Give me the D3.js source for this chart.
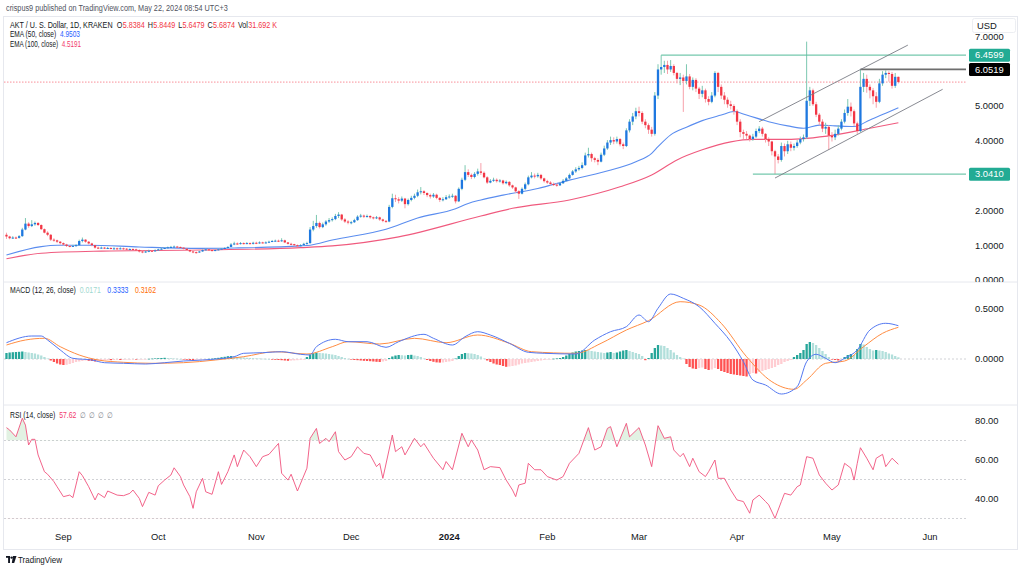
<!DOCTYPE html>
<html><head><meta charset="utf-8">
<script src="https://cdn.jsdelivr.net/npm/d3@7"></script>
<style>
html,body{margin:0;padding:0;background:#fff;}
svg{display:block;font-family:"Liberation Sans",Arial,sans-serif;}
</style></head><body>
<svg id="c" width="1024" height="570"></svg>
<script>
// ---------------- DATA ----------------
const firstDay = [2023, 7, 14]; // Aug 14 2023 (UTC), one candle per day
const firstOpen = 1.30;
const closes = [
 1.25,1.20,1.22,1.21,1.26,1.45,1.62,1.55,1.60,1.64,1.58,1.46,1.36,1.30,1.16,1.14,1.10,1.06,
 1.02,0.98,0.97,0.98,1.00,1.12,1.16,1.10,1.05,1.00,0.93,0.92,0.93,0.91,0.92,0.90,0.91,0.90,0.91,0.90,0.88,0.89,0.88,0.86,0.82,0.80,0.82,0.84,0.83,0.85,
 0.88,0.90,0.92,0.94,0.95,0.96,0.95,0.93,0.90,0.86,0.82,0.80,0.79,0.82,0.86,0.88,0.86,0.84,0.86,0.88,0.90,0.92,0.95,1.02,1.05,1.04,1.06,1.05,1.06,1.04,1.07,
 1.06,1.08,1.07,1.08,1.10,1.12,1.13,1.12,1.14,1.08,1.04,1.03,1.00,0.98,1.00,1.04,1.06,1.45,1.55,1.64,1.52,1.60,1.68,1.72,1.75,1.84,1.88,1.74,1.68,1.65,
 1.66,1.72,1.82,1.85,1.82,1.84,1.80,1.78,1.80,1.74,1.70,1.68,2.10,2.35,2.32,2.28,2.34,2.18,2.30,2.36,2.42,2.52,2.55,2.50,2.44,2.40,2.45,2.36,2.30,2.32,2.38,
 2.40,2.42,2.26,2.62,2.88,3.10,3.02,2.96,3.05,3.12,3.08,2.95,2.80,2.85,2.88,2.84,2.86,2.78,2.82,2.72,2.66,2.55,2.48,2.62,2.75,2.95,3.00,2.98,3.02,2.92,2.84,
 2.80,2.76,2.74,2.72,2.78,2.85,2.92,3.02,3.12,3.18,3.22,3.30,3.58,3.62,3.50,3.45,3.40,3.60,3.78,3.95,4.02,3.98,4.05,3.90,3.85,4.30,4.55,4.70,4.85,
 4.80,4.55,4.45,4.32,4.20,5.30,6.05,6.12,6.18,6.05,6.15,5.95,5.78,5.82,5.72,5.85,5.55,5.75,5.50,5.35,5.45,5.20,5.12,5.30,5.95,5.55,5.30,5.18,5.05,5.00,4.85,
 4.55,4.25,4.20,4.15,4.05,4.12,4.28,4.35,4.20,4.05,3.98,3.70,3.55,3.45,3.85,3.70,3.90,3.80,3.85,3.95,4.05,4.10,5.15,5.45,5.05,4.75,4.55,4.35,4.40,4.15,
 4.10,4.20,4.35,4.55,4.80,4.98,4.85,4.50,4.28,5.55,5.78,5.55,5.45,5.28,5.12,5.65,5.90,5.95,5.92,5.58,5.8384,5.6874
];
const highs = [
 1.36,1.27,1.26,1.25,1.29,1.50,1.78,1.66,1.72,1.68,1.66,1.60,1.48,1.40,1.32,1.20,1.16,1.12,
 1.08,1.04,1.00,1.01,1.03,1.16,1.22,1.17,1.12,1.07,1.01,0.96,0.96,0.95,0.95,0.94,0.94,0.93,0.94,0.93,0.92,0.91,0.91,0.90,0.88,0.84,0.85,0.87,0.86,0.88,
 0.90,0.93,0.94,0.96,0.98,0.99,0.98,0.96,0.94,0.91,0.87,0.83,0.82,0.84,0.88,0.90,0.90,0.87,0.88,0.90,0.92,0.94,0.97,1.06,1.10,1.08,1.09,1.08,1.09,1.08,1.10,
 1.10,1.11,1.10,1.11,1.13,1.15,1.16,1.16,1.20,1.16,1.09,1.07,1.04,1.02,1.03,1.07,1.10,1.52,1.70,1.87,1.68,1.65,1.72,1.78,1.80,1.90,1.95,1.90,1.78,1.72,
 1.70,1.76,1.86,1.90,1.88,1.88,1.86,1.82,1.84,1.82,1.76,1.72,2.16,2.48,2.45,2.38,2.40,2.36,2.34,2.42,2.48,2.60,2.67,2.58,2.52,2.48,2.50,2.48,2.38,2.38,2.44,
 2.46,2.48,2.44,2.66,2.94,3.30,3.18,3.06,3.10,3.20,3.36,3.12,2.98,2.90,2.94,2.92,2.90,2.88,2.86,2.84,2.74,2.68,2.58,2.66,2.80,3.00,3.10,3.06,3.08,3.05,2.94,
 2.88,2.84,2.80,2.78,2.82,2.90,2.96,3.06,3.16,3.24,3.28,3.38,3.66,3.80,3.66,3.54,3.50,3.66,3.86,4.02,4.12,4.10,4.12,4.08,3.95,4.36,4.62,4.80,4.95,
 4.98,4.85,4.62,4.50,4.40,5.40,6.20,6.4599,6.30,6.30,6.32,6.20,5.98,5.95,5.90,6.20,5.92,5.82,5.80,5.55,5.58,5.50,5.28,5.40,6.00,5.98,5.62,5.40,5.25,5.15,5.05,
 4.90,4.62,4.32,4.28,4.18,4.20,4.35,4.42,4.40,4.22,4.10,4.00,3.74,3.62,3.95,3.92,4.00,3.98,3.92,4.02,4.12,4.18,6.85,5.55,5.50,5.12,4.80,4.62,4.52,4.45,
 4.25,4.32,4.45,4.62,4.90,5.20,5.10,4.90,4.55,6.0519,5.95,5.90,5.62,5.52,5.40,5.78,6.00,6.02,6.00,5.98,5.95,5.8449
];
const lows = [
 1.18,1.17,1.18,1.18,1.19,1.24,1.43,1.50,1.52,1.56,1.55,1.44,1.34,1.26,1.12,1.10,1.06,1.02,
 0.99,0.95,0.94,0.95,0.96,0.98,1.08,1.07,1.02,0.97,0.90,0.89,0.90,0.89,0.89,0.88,0.88,0.87,0.88,0.87,0.86,0.86,0.86,0.84,0.79,0.77,0.78,0.80,0.81,0.82,
 0.84,0.87,0.89,0.91,0.93,0.94,0.93,0.91,0.88,0.84,0.80,0.77,0.76,0.78,0.81,0.85,0.84,0.82,0.83,0.85,0.87,0.90,0.91,0.94,1.00,1.01,1.02,1.02,1.03,1.02,1.02,
 1.03,1.04,1.05,1.05,1.06,1.09,1.10,1.09,1.10,1.06,1.02,1.00,0.97,0.95,0.97,0.99,1.02,1.04,1.40,1.50,1.48,1.49,1.56,1.64,1.68,1.72,1.78,1.70,1.64,1.60,
 1.60,1.64,1.70,1.79,1.78,1.79,1.76,1.74,1.75,1.70,1.66,1.64,1.66,2.06,2.24,2.20,2.24,2.06,2.14,2.26,2.32,2.38,2.46,2.44,2.38,2.34,2.36,2.32,2.24,2.26,2.30,
 2.34,2.36,2.20,2.24,2.58,2.84,2.96,2.90,2.92,3.00,3.02,2.92,2.76,2.78,2.82,2.80,2.80,2.74,2.75,2.68,2.62,2.50,2.33,2.46,2.58,2.72,2.92,2.92,2.94,2.88,2.80,
 2.76,2.72,2.70,2.68,2.70,2.76,2.83,2.90,3.00,3.08,3.14,3.18,3.28,3.52,3.40,3.38,3.30,3.38,3.56,3.74,3.88,3.90,3.92,3.84,3.76,3.82,4.24,4.45,4.62,
 4.70,4.48,4.36,4.20,4.12,4.15,5.20,5.90,5.95,5.92,5.98,5.88,5.65,5.60,4.83,5.62,5.48,5.45,5.40,5.20,5.25,5.10,5.02,5.08,5.25,5.40,5.20,5.05,4.95,4.90,4.75,
 4.45,4.10,4.05,4.05,3.98,4.00,4.08,4.22,4.12,3.95,3.85,3.58,3.041,3.35,3.40,3.55,3.62,3.70,3.72,3.80,3.90,3.98,4.05,5.00,5.00,4.68,4.45,4.25,4.20,3.74,
 3.98,4.02,4.15,4.30,4.50,4.72,4.70,4.42,4.20,4.25,5.40,5.38,5.22,5.05,4.95,5.08,5.58,5.80,5.70,5.50,5.52,5.6479
];
// EMA lines (day index -> value)
const ema50Idx = [0,11,16,26,42,61,72,93,96,103,120,130,142,146,150,157,168,178,189,199,204,206,210,215,220,226,230,234,241,247,252,257,262,268,273,278,282];
const ema50Val = [0.72,0.96,1.0,1.0,0.95,0.91,0.92,0.98,1.0,1.15,1.46,1.78,2.05,2.20,2.30,2.44,2.63,2.87,3.11,3.40,3.64,3.83,4.17,4.39,4.58,4.74,4.84,4.74,4.55,4.43,4.36,4.45,4.43,4.41,4.60,4.79,4.95];
const ema100Idx = [0,11,30,61,93,103,124,150,160,178,194,204,212,220,229,236,247,253,262,273,282];
const ema100Val = [0.61,0.77,0.83,0.86,0.93,0.98,1.24,1.84,2.06,2.30,2.68,3.02,3.45,3.74,3.97,4.04,4.04,4.07,4.17,4.36,4.52];
// MACD
const macdIdx = [0,8,11,13,17,21,27,31,37,44,50,56,62,72,75,81,87,93,96,98,104,108,114,120,124,132,135,141,145,149,153,159,165,170,180,186,191,196,200,203,206,210,214,219,224,229,233,236,240,245,250,253,256,259,262,265,269,273,278,282];
const macdVal = [0.163,0.23,0.23,0.19,0.09,0.007,-0.01,-0.037,-0.043,-0.05,-0.037,-0.02,-0.01,0.023,0.057,0.063,0.073,0.047,0.04,0.123,0.197,0.173,0.173,0.117,0.173,0.247,0.207,0.14,0.223,0.273,0.24,0.157,0.067,0.057,0.05,0.19,0.273,0.323,0.44,0.373,0.507,0.65,0.607,0.523,0.357,0.173,-0.027,-0.21,-0.26,-0.35,-0.277,-0.027,0.047,0.007,-0.037,0.007,0.09,0.29,0.357,0.333];
const signalIdx = [0,6,12,17,23,29,37,46,56,66,75,85,95,103,108,118,129,139,149,159,166,180,188,196,203,213,219,226,234,242,249,253,259,265,271,277,282];
const signalVal = [0.14,0.19,0.207,0.123,0.04,-0.01,-0.033,-0.043,-0.037,-0.01,0.023,0.073,0.05,0.123,0.173,0.15,0.207,0.163,0.24,0.157,0.073,0.057,0.157,0.29,0.383,0.573,0.54,0.357,0.023,-0.227,-0.303,-0.21,-0.043,-0.02,0.123,0.257,0.317];
const histogram = [
 0.06,0.065,0.068,0.07,0.072,0.075,0.07,0.065,0.06,0.055,
 0.045,0.035,0.02,0.005,-0.015,-0.03,-0.045,-0.055,
 -0.06,-0.058,-0.05,-0.04,-0.03,
 -0.025,-0.02,-0.015,-0.018,-0.02,-0.025,-0.02,-0.015,-0.012,-0.01,-0.012,-0.01,-0.008,
 -0.01,-0.008,-0.006,-0.005,-0.004,-0.006,-0.004,-0.003,-0.002,
 0.002,0.004,0.006,0.008,0.01,0.012,0.01,0.008,0.005,0.003,0.0,
 -0.005,-0.008,-0.01,-0.012,-0.01,-0.008,-0.005,
 -0.002,0.002,0.004,0.008,0.012,0.018,0.022,
 0.028,0.03,0.025,0.02,0.018,0.015,0.012,
 0.01,0.008,0.006,0.005,0.003,0.002,0.0,-0.004,-0.008,-0.01,
 -0.012,-0.015,-0.018,-0.016,-0.014,-0.012,-0.01,-0.008,
 0.02,0.045,0.058,0.062,0.06,0.058,0.055,0.05,0.045,0.04,
 0.03,0.02,0.01,0.002,-0.005,-0.01,
 -0.012,-0.015,-0.018,-0.02,-0.022,-0.025,-0.028,-0.03,-0.025,-0.02,
 0.01,0.025,0.035,0.04,0.038,0.035,0.04,0.042,0.035,0.03,0.02,
 0.005,-0.01,-0.02,-0.028,-0.034,-0.036,-0.035,-0.03,-0.025,-0.02,
 0.005,0.03,0.05,0.06,0.058,0.055,0.05,0.04,0.025,
 0.005,-0.015,-0.03,-0.045,-0.055,-0.06,-0.07,-0.078,-0.075,-0.07,-0.065,-0.055,-0.045,
 -0.04,-0.035,-0.03,-0.025,-0.02,-0.015,-0.01,-0.005,-0.002,
 0.003,0.006,0.01,0.02,0.035,0.05,
 0.065,0.075,0.08,0.085,0.09,0.088,0.08,0.075,0.07,0.065,0.06,
 0.065,0.07,0.06,0.065,0.075,0.085,0.09,0.08,0.07,0.06,0.05,0.03,
 -0.012,
 0.01,0.06,0.11,0.14,
 0.135,0.13,0.11,0.09,0.065,
 0.04,0.02,0.005,
 -0.05,-0.08,-0.095,-0.1,-0.09,-0.085,-0.1,-0.11,-0.105,-0.09,
 -0.1,-0.12,-0.13,-0.14,-0.15,-0.155,-0.16,-0.165,-0.17,-0.175,-0.15,
 -0.14,-0.145,-0.13,-0.12,-0.11,-0.1,-0.09,-0.08,-0.06,-0.05,-0.03,
 -0.02,-0.01,0.02,0.04,0.06,0.09,
 0.15,0.17,0.16,0.14,0.11,
 0.08,0.05,0.02,-0.005,-0.01,
 -0.015,-0.005,0.02,0.04,
 0.05,0.04,0.1,0.15,0.145,0.12,
 0.1,0.085,0.09,0.085,0.08,0.07,0.055,0.045,0.03,0.017
];
// RSI
const rsiIdx = [0,1,3,5,6,7,8,9,10,12,13,15,16,18,20,21,23,24,26,28,29,31,32,35,37,39,40,42,43,45,47,48,50,52,53,55,56,58,59,60,62,63,65,67,68,70,72,73,75,77,79,81,83,86,87,89,90,92,95,96,98,99,101,102,104,105,107,109,111,113,115,117,118,119,122,123,125,126,129,131,132,134,135,138,139,141,144,146,147,149,151,153,156,158,160,161,162,164,165,167,169,171,174,176,178,181,184,186,188,190,191,193,196,197,200,202,204,206,208,210,211,213,214,216,217,219,221,222,224,225,227,229,231,233,235,236,238,240,241,243,245,246,248,250,251,253,255,257,259,261,263,265,267,268,269,270,272,274,275,277,278,280,282];
const rsiVal = [76.6,75.4,71.9,81.4,77.9,67.7,70.6,70.6,62.6,54,52.7,48.9,46.3,41.2,42,40.7,54,52,46.3,39.5,42.9,40.7,44.1,42,41.7,42.9,44.6,40.3,36.1,43.4,42,46.8,49.7,52.3,56,51.5,47.2,41.2,35.2,43.7,50.6,43.7,42.4,54,47.5,54,62.6,56.6,65.1,61.7,56.6,61.7,62.9,68.5,53.2,49.7,52.7,44.1,55.8,71.1,76.2,68.5,71.1,69.4,74.5,64.3,60,61.7,66.8,63.4,62.6,56.6,58.3,50.6,72.8,64.3,66.8,62.6,71.1,66.8,68.5,63.4,60.9,55,59.2,55,73.7,66.8,70.3,65.1,55,56.6,56.1,49.7,44.6,41.2,47.2,48.1,58.3,55,55,51.5,49.7,51.5,58.3,63.4,76.6,65.1,66.8,76.2,77.1,66.8,78.8,71.9,76.6,67.7,56.6,77.6,71.1,71.9,65.1,61.7,63.4,56.6,60.9,54,51.5,54,60,50.6,50.6,44.6,39.5,38.7,32.7,39.5,42,38.7,37,30.1,38.7,42.9,42,46.3,47.2,61.7,60.9,52.3,48.1,44.6,47.2,58.3,55.8,49.7,58.3,66.3,60.9,55,60.9,62.9,56.6,60.9,57.8];
// drawings
const hLevels = [ {v:6.4599, from:207, color:"#5cbf9f", box:"#22ab94"}, {v:6.0519, from:270, color:"#555", box:"#000"}, {v:3.041, from:236, color:"#5cbf9f", box:"#22ab94"} ];
const channel = [ [[238,4.55],[285,6.75]], [[243,2.93],[296,5.48]] ];
const monthLabels = [["Sep",2023,8],["Oct",2023,9],["Nov",2023,10],["Dec",2023,11],["2024",2024,0],["Feb",2024,1],["Mar",2024,2],["Apr",2024,3],["May",2024,4],["Jun",2024,5]];
// legend texts: [text, colour, gap before]
const legendMain = [["AKT / U. S. Dollar, 1D, KRAKEN","#131722",0],["O","#131722",5],["5.8384","#f23645",0.5],["H","#131722",3.5],["5.8449","#f23645",0.5],["L","#131722",3.5],["5.6479","#f23645",0.5],["C","#131722",3.5],["5.6874","#f23645",0.5],["Vol","#131722",3.5],["31.692 K","#f23645",0.5]];
const legendEma50 = [["EMA (50, close)","#131722",0],["4.9503","#2962ff",5]];
const legendEma100 = [["EMA (100, close)","#131722",0],["4.5191","#f23a6c",5]];
const legendMacd = [["MACD (12, 26, close)","#131722",0],["0.0171","#9fd8cf",5],["0.3333","#2962ff",8],["0.3162","#ff6d00",8]];
const legendRsi = [["RSI (14, close)","#131722",0],["57.62","#f23a6c",5],["\u2205","#787b86",5],["\u2205","#787b86",4],["\u2205","#787b86",4],["\u2205","#787b86",4]];

// ---------------- SCALES ----------------
const svg = d3.select("#c");
const dayDate = i => new Date(Date.UTC(firstDay[0], firstDay[1], firstDay[2] + i));
const x = d3.scaleUtc().domain([Date.UTC(2023,8,1), Date.UTC(2024,5,1)]).range([63.4, 930]);
const xi = i => x(dayDate(i));
const PANE_L = 4, PANE_R = 966;
const yP = d3.scaleLinear().domain([0,7]).range([280, 36.4]);
const yM = d3.scaleLinear().domain([0,0.5]).range([359, 309]);
const yR = d3.scaleLinear().domain([40,80]).range([499, 421]);

const defs = svg.append("defs");
function clip(id, y0, y1){ defs.append("clipPath").attr("id",id).append("rect").attr("x",PANE_L).attr("y",y0).attr("width",PANE_R-PANE_L).attr("height",y1-y0); }
clip("cp",17,281.5); clip("cm",282.5,404.5); clip("cr",405.5,521.5);
defs.append("clipPath").attr("id","cax").append("rect").attr("x",966).attr("y",17).attr("width",52).attr("height",265);
defs.append("clipPath").attr("id","above70").append("rect").attr("x",PANE_L).attr("y",405).attr("width",PANE_R-PANE_L).attr("height",yR(70)-405);
defs.append("clipPath").attr("id","below30").append("rect").attr("x",PANE_L).attr("y",yR(30)).attr("width",PANE_R-PANE_L).attr("height",30);

// condensed text line: pieces laid out one after another, then the whole line squeezed to the reference width
function textLine(items, x0, y, width, size){
  const g = svg.append("g").attr("font-size",size||8.4);
  let cur = 0;
  items.forEach(d=>{
    cur += d[2];
    const t = g.append("text").attr("x",cur).attr("y",0).attr("fill",d[1]).text(d[0]);
    cur += t.node().getComputedTextLength();
  });
  g.attr("transform",`translate(${x0},${y}) scale(${width/cur},1)`);
}

// ---------------- FRAME ----------------
svg.append("rect").attr("x",3.5).attr("y",16.5).attr("width",1014).attr("height",533).attr("fill","none").attr("stroke","#e6e8ee");
svg.append("line").attr("x1",4).attr("x2",1018).attr("y1",282).attr("y2",282).attr("stroke","#e6e8ee");
svg.append("line").attr("x1",4).attr("x2",1018).attr("y1",405).attr("y2",405).attr("stroke","#e6e8ee");

textLine([["crispus9 published on TradingView.com, May 22, 2024 08:54 UTC+3","#50535e",0]], 6, 11, 222, 8.6);

// ---------------- PRICE PANE ----------------
const gp = svg.append("g").attr("clip-path","url(#cp)");
const lastC = closes[closes.length-1];
gp.append("line").attr("x1",PANE_L).attr("x2",PANE_R).attr("y1",yP(lastC)).attr("y2",yP(lastC)).attr("stroke","#f7525f").attr("stroke-width",0.8).attr("stroke-dasharray","1.5,1.5").attr("opacity",0.8);
const lineGen = (ys) => d3.line().x(d=>xi(d[0])).y(d=>ys(d[1])).curve(d3.curveMonotoneX);
gp.append("path").datum(ema100Idx.map((d,k)=>[d,ema100Val[k]])).attr("d",lineGen(yP)).attr("fill","none").attr("stroke","#f05a7e").attr("stroke-width",1.1);
gp.append("path").datum(ema50Idx.map((d,k)=>[d,ema50Val[k]])).attr("d",lineGen(yP)).attr("fill","none").attr("stroke","#5b8def").attr("stroke-width",1.1);
const candles = closes.map((c,i)=>({i, o: i===0?firstOpen:closes[i-1], c, h: highs[i], l: lows[i]}));
const cg = gp.append("g");
candles.forEach(d=>{
  const up = d.c >= d.o;
  const cx = xi(d.i);
  const hi = Math.max(d.h,d.o,d.c), lo = Math.min(d.l,d.o,d.c);
  cg.append("line").attr("x1",cx).attr("x2",cx).attr("y1",yP(hi)).attr("y2",yP(lo)).attr("stroke", up?"#7cc8b0":"#f7a0aa").attr("stroke-width",1);
  const y0 = yP(Math.max(d.o,d.c)), y1 = yP(Math.min(d.o,d.c));
  cg.append("rect").attr("x",cx-1.15).attr("width",2.3).attr("y",y0).attr("height",Math.max(1,y1-y0)).attr("fill", up?"#1e78e0":"#f23645");
});
hLevels.forEach(L=>{
  gp.append("line").attr("x1",xi(L.from)).attr("x2",PANE_R+4).attr("y1",yP(L.v)).attr("y2",yP(L.v)).attr("stroke",L.color).attr("stroke-width",L.box==="#000"?1.6:1.2).attr("opacity",0.85);
});
channel.forEach(seg=>{
  gp.append("line").attr("x1",xi(seg[0][0])).attr("y1",yP(seg[0][1])).attr("x2",xi(seg[1][0])).attr("y2",yP(seg[1][1])).attr("stroke","#7a7d86").attr("stroke-width",0.9);
});
textLine(legendMain, 10, 27.5, 267);
textLine(legendEma50, 10, 37, 70);
textLine(legendEma100, 10, 46.5, 71);

// price axis
const pax = svg.append("g").attr("clip-path","url(#cax)").attr("font-size",9.4).attr("fill","#131722");
[0,1,2,4,5,7].forEach(v=>{
  pax.append("text").attr("x",975).attr("y",yP(v)+3.3).text(d3.format(".4f")(v));
});
hLevels.forEach(L=>{
  pax.append("rect").attr("x",969).attr("y",yP(L.v)-6.5).attr("width",41).attr("height",13).attr("rx",1.5).attr("fill",L.box);
  pax.append("text").attr("x",975).attr("y",yP(L.v)+3.3).attr("fill","#fff").text(d3.format(".4f")(L.v));
});
svg.append("rect").attr("x",972.5).attr("y",18.5).attr("width",43).attr("height",14).attr("rx",2).attr("fill","#fff").attr("stroke","#eceef2");
svg.append("text").attr("x",977).attr("y",28.5).attr("font-size",9.4).attr("fill","#131722").text("USD");

// ---------------- MACD PANE ----------------
const gm = svg.append("g").attr("clip-path","url(#cm)");
gm.append("line").attr("x1",PANE_L).attr("x2",PANE_R).attr("y1",yM(0)).attr("y2",yM(0)).attr("stroke","#c5c7cc").attr("stroke-dasharray","2,2").attr("stroke-width",0.8);
histogram.forEach((v,i)=>{
  const prev = i===0 ? v : histogram[i-1];
  let col;
  if (v >= 0) col = v >= prev ? "#26a69a" : "#b2dfdb";
  else col = v < prev ? "#ff5252" : "#ffcdd2";
  const y0 = yM(Math.max(0,v)), y1 = yM(Math.min(0,v));
  gm.append("rect").attr("x",xi(i)-1.15).attr("width",2.3).attr("y",y0).attr("height",Math.max(0.6,y1-y0)).attr("fill",col);
});
gm.append("path").datum(signalIdx.map((d,k)=>[d,signalVal[k]])).attr("d",lineGen(yM)).attr("fill","none").attr("stroke","#ff8c42").attr("stroke-width",1);
gm.append("path").datum(macdIdx.map((d,k)=>[d,macdVal[k]])).attr("d",lineGen(yM)).attr("fill","none").attr("stroke","#5478f0").attr("stroke-width",1);
textLine(legendMacd, 10, 293, 146);
svg.append("g").attr("font-size",9.4).attr("fill","#131722").selectAll("text").data([0.5,0]).join("text").attr("x",975).attr("y",d=>yM(d)+3.3).text(d=>d3.format(".4f")(d));

// ---------------- RSI PANE ----------------
const gr = svg.append("g").attr("clip-path","url(#cr)");
[70,50,30].forEach(v=>{
  gr.append("line").attr("x1",PANE_L).attr("x2",PANE_R).attr("y1",yR(v)).attr("y2",yR(v)).attr("stroke","#c5c7cc").attr("stroke-dasharray","2,2").attr("stroke-width",0.8);
});
const rsiPts = rsiIdx.map((d,k)=>[d,rsiVal[k]]);
const areaTop = d3.area().x(d=>xi(d[0])).y0(yR(70)).y1(d=>yR(d[1]));
gr.append("path").datum(rsiPts).attr("d",areaTop).attr("fill","rgba(76,175,80,0.16)").attr("clip-path","url(#above70)");
const areaBot = d3.area().x(d=>xi(d[0])).y0(yR(30)).y1(d=>yR(d[1]));
gr.append("path").datum(rsiPts).attr("d",areaBot).attr("fill","rgba(242,54,69,0.16)").attr("clip-path","url(#below30)");
gr.append("path").datum(rsiPts).attr("d",d3.line().x(d=>xi(d[0])).y(d=>yR(d[1]))).attr("fill","none").attr("stroke","#f0527d").attr("stroke-width",0.9);
textLine(legendRsi, 10, 418, 103);
svg.append("g").attr("font-size",9.4).attr("fill","#131722").selectAll("text").data([80,60,40]).join("text").attr("x",975).attr("y",d=>yR(d)+3.3).text(d=>d3.format(".2f")(d));

// ---------------- TIME AXIS ----------------
svg.append("g").attr("font-size",9.4).attr("fill","#131722").selectAll("text").data(monthLabels).join("text")
  .attr("x",d=>x(Date.UTC(d[1],d[2],1))).attr("y",540).attr("text-anchor","middle")
  .attr("font-weight",d=>d[0]==="2024"?"bold":"normal").text(d=>d[0]);

// ---------------- LOGO ----------------
const logo = svg.append("g").attr("transform","translate(6,556)").attr("fill","#131722");
logo.append("rect").attr("x",0).attr("y",0).attr("width",4).attr("height",1.8);
logo.append("rect").attr("x",2.1).attr("y",0).attr("width",1.9).attr("height",7);
logo.append("circle").attr("cx",5.6).attr("cy",1.6).attr("r",1.2);
logo.append("path").attr("d","M7 0 L10.5 0 L8.2 7 L5.8 7 Z");
textLine([["TradingView","#131722",0]], 18, 563, 44, 8.2);
</script>
</body></html>
